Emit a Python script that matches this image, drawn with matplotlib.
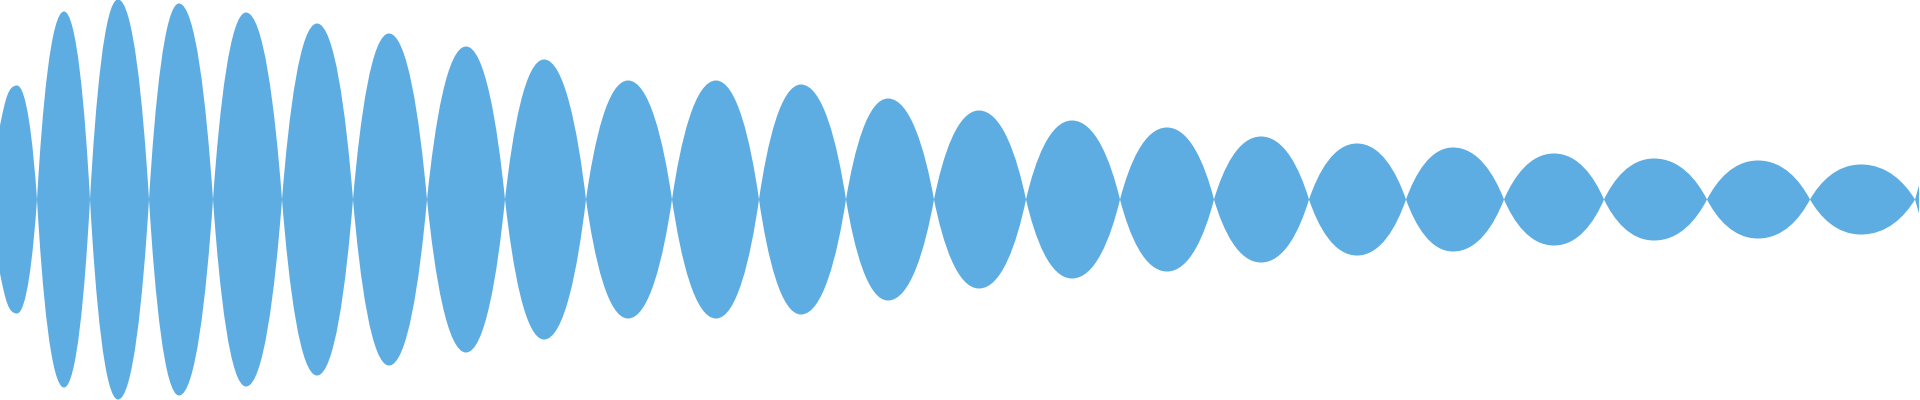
import matplotlib
matplotlib.use("Agg")
import matplotlib.pyplot as plt
from matplotlib.path import Path
from matplotlib.patches import PathPatch

# waveform (x in px, amplitude in px from the centre line)
start_x = 0
start_amp = 74
peak_x = [17, 64, 118, 179, 246, 317, 389, 466, 544, 628, 716, 801, 888,
          979, 1072, 1167, 1261, 1357, 1453, 1554, 1654, 1758, 1861]
peak_amp = [114, 188, 200, 196, 187, 176, 166, 153, 140, 119, 119, 115, 101,
            89, 79, 72, 63, 56, 52, 46, 41, 39, 35]
cross_x = [37, 90, 149, 213, 282, 353, 427, 505, 586, 672, 759, 846, 934,
           1026, 1120, 1214, 1309, 1406, 1504, 1604, 1707, 1810, 1915]
end_x = 1919
end_amp = 14

color = "#5dade2"

# bezier handles for one quarter of a lobe (fraction of width, fraction of height)
K1, KY, K2 = 0.2, 0.5, 0.52

verts = [(start_x, start_amp)]
prev_x, prev_y = start_x, start_amp
for i in range(len(peak_x)):
    p, a = peak_x[i], peak_amp[i]
    d = p - prev_x
    if i == 0:
        verts += [(prev_x + d / 3, prev_y + (a - prev_y) * 0.7), (p - d / 2, a), (p, a)]
    else:
        verts += [(prev_x + K1 * d, KY * a), (prev_x + K2 * d, a), (p, a)]
    c = cross_x[i]
    d = c - p
    verts += [(p + (1 - K2) * d, a), (p + (1 - K1) * d, KY * a), (c, 0)]
    prev_x, prev_y = c, 0
# short tail up to the end of the data
d = end_x - prev_x
verts += [(prev_x + d / 3, end_amp / 3), (prev_x + 2 * d / 3, 2 * end_amp / 3), (end_x, end_amp)]

n = len(verts)
codes = [Path.MOVETO] + [Path.CURVE4] * (n - 1)

lower = [(x, -y) for (x, y) in verts[::-1]]
all_verts = verts + lower + [verts[0]]
all_codes = codes + [Path.LINETO] + [Path.CURVE4] * (n - 1) + [Path.CLOSEPOLY]

fig = plt.figure(figsize=(19.2, 4), dpi=100)
ax = fig.add_axes([0, 0, 1, 1])
ax.add_patch(PathPatch(Path(all_verts, all_codes), facecolor=color, edgecolor="none"))
ax.set_xlim(0, 1920)
ax.set_ylim(-200.5, 199.5)
ax.axis("off")
fig.savefig("out.png", dpi=100, facecolor="white")
